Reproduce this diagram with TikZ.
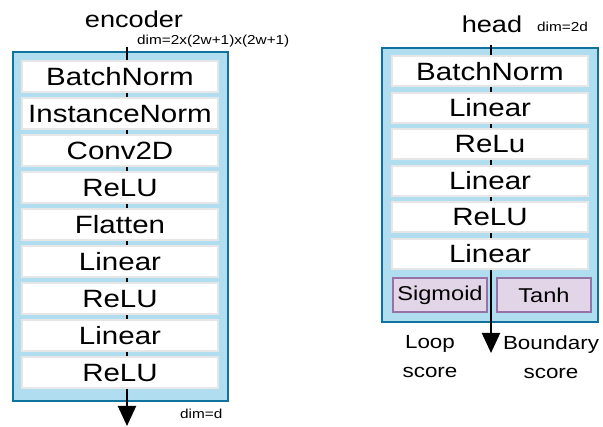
\documentclass[tikz,border=0pt]{standalone}
\usepackage{fontspec}
\setmainfont[FakeStretch=1.18]{Liberation Sans}
\usepackage{xcolor}
\usepackage{tikz}
\usetikzlibrary{positioning, arrows.meta}
\definecolor{boxblue}{HTML}{B1DDF0}
\definecolor{edgeblue}{HTML}{10739E}
\definecolor{boxpurple}{HTML}{E1D5E7}
\definecolor{edgepurple}{HTML}{9673A6}
\definecolor{edgegrey}{HTML}{E6E6E6}
\tikzstyle{container} = [rectangle, draw=edgeblue, fill=boxblue, line width=1.5pt]
\tikzstyle{netlayer} = [rectangle, minimum width=196pt, minimum height=31pt, inner sep=0pt, text centered, draw=edgegrey, fill=white, line width=2pt, font=\fontsize{25}{30}\selectfont]
\tikzstyle{act} = [rectangle, minimum width=94pt, minimum height=34pt, inner sep=0pt, text centered, draw=edgepurple, fill=boxpurple, line width=1.5pt, font=\fontsize{20}{24}\selectfont]
\tikzstyle{arrow} = [line width=2pt,->,>={Triangle[length=20pt,width=18pt]}]
\tikzstyle{title} = [font=\fontsize{23}{28}\selectfont, inner sep=0pt]
\tikzstyle{dimtext} = [font=\fontsize{13}{15}\selectfont, inner sep=0pt]
\tikzstyle{score} = [font=\fontsize{19}{29}\selectfont, align=center, inner sep=0pt]

\begin{document}
\begin{tikzpicture}[x=1pt, y=1pt, node distance=37pt]
\useasboundingbox (0,0) rectangle (603,427);

% encoder
\node (encbox) [container, minimum width=215pt, minimum height=349pt] at (120.5,200.5) {};
\node (enctitle) [title, anchor=base] at (134,399) {encoder};
\node (encdim) [dimtext, anchor=base west] at (137,382) {dim=2x(2w+1)x(2w+1)};
\coordinate (encin) at (127,380);
\coordinate (encout) at (127,1);
\draw [arrow] (encin) -- (encout);

\node (bn1) [netlayer] at (120,350) {BatchNorm};
\node (inorm) [netlayer, below of=bn1] {InstanceNorm};
\node (conv) [netlayer, below of=inorm] {Conv2D};
\node (relu1) [netlayer, below of=conv] {ReLU};
\node (flat) [netlayer, below of=relu1] {Flatten};
\node (lin1) [netlayer, below of=flat] {Linear};
\node (relu2) [netlayer, below of=lin1] {ReLU};
\node (lin2) [netlayer, below of=relu2] {Linear};
\node (relu3) [netlayer, below of=lin2] {ReLU};
\node (outdim) [dimtext, anchor=base west] at (180,8) {dim=d};

% head
\node (headbox) [container, minimum width=216pt, minimum height=274pt] at (490,242) {};
\node (headtitle) [title, anchor=base] at (492,394) {head};
\node (headdim) [dimtext, anchor=base west] at (537,395) {dim=2d};
\coordinate (headin) at (491,382);
\coordinate (headout) at (491,74);
\draw [arrow] (headin) -- (headout);

\begin{scope}[node distance=36.5pt]
\node (bn2) [netlayer, minimum height=30pt] at (490,355.5) {BatchNorm};
\node (hlin1) [netlayer, minimum height=30pt, below of=bn2] {Linear};
\node (hrelu1) [netlayer, minimum height=30pt, below of=hlin1] {ReLu};
\node (hlin2) [netlayer, minimum height=30pt, below of=hrelu1] {Linear};
\node (hrelu2) [netlayer, minimum height=30pt, below of=hlin2] {ReLU};
\node (hlin3) [netlayer, minimum height=30pt, below of=hrelu2] {Linear};
\end{scope}
\node (sigm) [act] at (440,132) {Sigmoid};
\node (tanh) [act] at (544,132) {Tanh};

\node (loop) [score] at (430,70) {Loop\\score};
\node (bound) [score] at (551,70) {Boundary\\score};
\end{tikzpicture}
\end{document}
